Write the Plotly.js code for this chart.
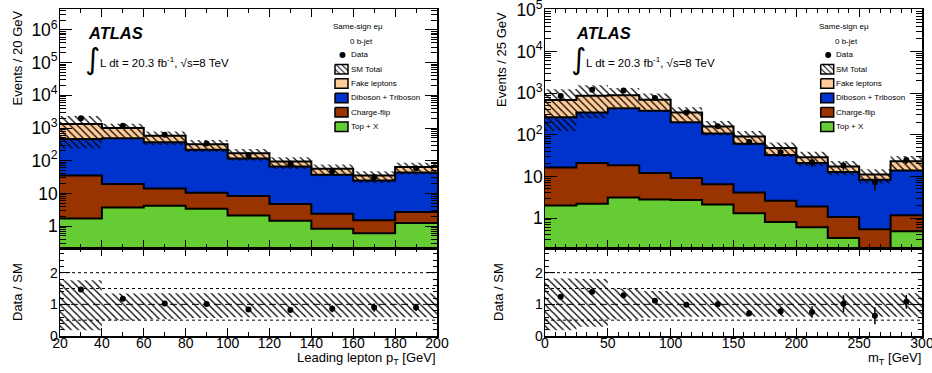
<!DOCTYPE html>
<html>
<head>
<meta charset="utf-8">
<script src="https://cdn.plot.ly/plotly-3.0.1.min.js"></script>
<style>html,body{margin:0;padding:0;background:#fff;}#chart{width:932px;height:373px;}</style>
</head>
<body>
<div id="chart"></div>
<script>
// ---------------- DATA ----------------
// Left panel: leading lepton pT, bins of 20 GeV from 20 to 200
const edgesL = [20, 40, 60, 80, 100, 120, 140, 160, 180, 200];
const topXL = [1.7, 3.7, 4.2, 3.4, 2.1, 1.46, 0.83, 0.6, 1.24];
const chargeFlipL = [33.3, 15.7, 9.8, 7.1, 6.2, 3.24, 1.57, 0.9, 1.46];
const dibosonL = [425, 470, 351, 205, 109, 62, 34.6, 23.2, 41];
const fakeL = [860, 510, 210, 105, 51, 28, 20, 10.3, 20.4];
const dataL = [1990, 1170, 620, 335, 148, 81, 48, 32, 59];
const dataErrL = [45, 34, 25, 18, 12, 9, 7, 6, 8];
const ratioL = [1.47, 1.18, 1.03, 1.01, 0.84, 0.82, 0.86, 0.90, 0.90];
const ratioErrL = [0.03, 0.04, 0.05, 0.06, 0.08, 0.09, 0.11, 0.13, 0.11];
const bandLoL = [0.18, 0.50, 0.53, 0.57, 0.59, 0.59, 0.59, 0.59, 0.59];
const bandHiL = [1.76, 1.34, 1.35, 1.35, 1.35, 1.35, 1.35, 1.35, 1.35];

// Right panel: mT, bins of 25 GeV from 0 to 300
const edgesR = [0, 25, 50, 75, 100, 125, 150, 175, 200, 225, 250, 275, 300];
const topXR = [2.0, 2.2, 3.1, 2.8, 2.7, 2.1, 1.3, 0.8, 0.6, 0.33, 0.1, 0.48];
const chargeFlipR = [14.4, 18.8, 15.3, 9.2, 6.4, 4.4, 2.8, 1.8, 1.3, 0.73, 0.44, 0.68];
const dibosonR = [247, 319, 412, 363, 191, 100, 57, 30, 19, 11.6, 7.8, 12.7];
const fakeR = [417, 520, 460, 315, 140, 51, 30, 15.5, 8, 4.7, 2.7, 9.1];
const dataR = [850, 1210, 1150, 765, 340, 160, 67, 38, 22, 18.3, 7.2, 24.7];
const dataErrR = [29, 35, 34, 28, 18, 13, 8, 6, 5, 4.3, 2.7, 5];
const ratioR = [1.24, 1.40, 1.29, 1.11, 0.99, 1.00, 0.72, 0.78, 0.76, 1.02, 0.64, 1.08];
const ratioErrR = [0.04, 0.04, 0.04, 0.05, 0.06, 0.08, 0.10, 0.12, 0.18, 0.27, 0.27, 0.22];
const bandLoR = [0.18, 0.29, 0.52, 0.58, 0.61, 0.61, 0.61, 0.61, 0.61, 0.61, 0.61, 0.61];
const bandHiR = [1.82, 1.80, 1.50, 1.42, 1.35, 1.35, 1.35, 1.35, 1.35, 1.35, 1.35, 1.35];

const legendLabels = ['Data', 'SM Total', 'Fake leptons', 'Diboson + Triboson', 'Charge-flip', 'Top + X'];
const colFake = '#ffcc99', colDib = '#0033cc', colCF = '#993300', colTop = '#66cc33';

// ---------------- HELPERS ----------------
const W = 932, H = 373;
const px = x => x / W, py = y => 1 - y / H;
const FONT = 'Liberation Sans, Arial, Helvetica, sans-serif';

function cumsum(arrs) {
  const out = []; let acc = arrs[0].map(() => 0);
  for (const a of arrs) { acc = acc.map((v, i) => v + a[i]); out.push(acc.slice()); }
  return out;
}
function step(vals) { return vals.concat([vals[vals.length - 1]]); }
function centers(edges) { const c = []; for (let i = 0; i < edges.length - 1; i++) c.push((edges[i] + edges[i + 1]) / 2); return c; }

const traces = [];
const hatch = {shape: '\\', fgcolor: 'black', bgcolor: 'rgba(0,0,0,0)', size: 5, solidity: 0.25};
function panel(edges, top, cf, dib, fake, data, dataErr, ratio, ratioErr, lo, hi, xa, ya, xr, yr) {
  const [cTop, cCF, cDib, cFake] = cumsum([top, cf, dib, fake]);
  const layers = [[cFake, colFake], [cDib, colDib], [cCF, colCF], [cTop, colTop]];
  for (const [vals, col] of layers) {
    traces.push({x: edges, y: step(vals), xaxis: xa, yaxis: ya, type: 'scatter', mode: 'lines',
      line: {shape: 'hv', color: 'black', width: 2}, fill: 'tozeroy', fillcolor: col, hoverinfo: 'skip', showlegend: false});
  }
  traces.push({x: edges, y: step(cFake.map((v, i) => v * lo[i])), xaxis: xa, yaxis: ya, mode: 'lines',
    line: {shape: 'hv', width: 0, color: 'rgba(0,0,0,0)'}, hoverinfo: 'skip', showlegend: false});
  traces.push({x: edges, y: step(cFake.map((v, i) => v * hi[i])), xaxis: xa, yaxis: ya, mode: 'lines',
    line: {shape: 'hv', width: 0, color: 'rgba(0,0,0,0)'}, fill: 'tonexty', fillcolor: 'rgba(0,0,0,0)',
    fillpattern: hatch, hoverinfo: 'skip', showlegend: false});
  const c = centers(edges);
  traces.push({x: c, y: data, xaxis: xa, yaxis: ya, mode: 'markers', marker: {color: 'black', size: 6},
    error_y: {type: 'data', array: dataErr, color: 'black', thickness: 1.5, width: 0}, showlegend: false});
  traces.push({x: edges, y: step(lo), xaxis: xr, yaxis: yr, mode: 'lines',
    line: {shape: 'hv', width: 0, color: 'rgba(0,0,0,0)'}, hoverinfo: 'skip', showlegend: false});
  traces.push({x: edges, y: step(hi), xaxis: xr, yaxis: yr, mode: 'lines',
    line: {shape: 'hv', width: 0, color: 'rgba(0,0,0,0)'}, fill: 'tonexty', fillcolor: 'rgba(0,0,0,0)',
    fillpattern: hatch, hoverinfo: 'skip', showlegend: false});
  traces.push({x: c, y: ratio, xaxis: xr, yaxis: yr, mode: 'markers', marker: {color: 'black', size: 6},
    error_y: {type: 'data', array: ratioErr, color: 'black', thickness: 1.5, width: 0}, showlegend: false});
}
panel(edgesL, topXL, chargeFlipL, dibosonL, fakeL, dataL, dataErrL, ratioL, ratioErrL, bandLoL, bandHiL, 'x', 'y', 'x2', 'y2');
panel(edgesR, topXR, chargeFlipR, dibosonR, fakeR, dataR, dataErrR, ratioR, ratioErrR, bandLoR, bandHiR, 'x3', 'y3', 'x4', 'y4');

// ---------------- LEGENDS (pixel overlay axes x5/y5) ----------------
const annotations = [];
function legend(bx, textX, sameX, bjetX) {
  const bw = 13, bh = 9.5;
  const rows = [69.3, 83.6, 98, 112.3, 126.7];
  const fills = [null, colFake, colDib, colCF, colTop];
  rows.forEach((yc, i) => {
    const x0 = bx, x1 = bx + bw, y0 = yc - bh / 2, y1 = yc + bh / 2;
    const t = {x: [x0, x1, x1, x0, x0], y: [y0, y0, y1, y1, y0], xaxis: 'x5', yaxis: 'y5', mode: 'lines',
      line: {color: 'black', width: 1.5}, fill: 'toself', hoverinfo: 'skip', showlegend: false};
    if (fills[i]) t.fillcolor = fills[i];
    else { t.fillcolor = 'white'; t.fillpattern = {shape: '\\', fgcolor: 'black', bgcolor: 'white', size: 4, solidity: 0.25}; }
    traces.push(t);
    annotations.push({xref: 'paper', yref: 'paper', x: px(textX), y: py(yc), xanchor: 'left', yanchor: 'middle',
      text: legendLabels[i + 1], showarrow: false, font: {family: FONT, size: 8, color: 'black'}, borderpad: 0});
  });
  traces.push({x: [bx + 7.5], y: [55], xaxis: 'x5', yaxis: 'y5', mode: 'markers', marker: {color: 'black', size: 6},
    hoverinfo: 'skip', showlegend: false});
  annotations.push({xref: 'paper', yref: 'paper', x: px(textX), y: py(55), xanchor: 'left', yanchor: 'middle',
    text: legendLabels[0], showarrow: false, font: {family: FONT, size: 8, color: 'black'}, borderpad: 0});
  annotations.push({xref: 'paper', yref: 'paper', x: px(sameX), y: py(26), xanchor: 'center', yanchor: 'middle',
    text: 'Same-sign eμ', showarrow: false, font: {family: FONT, size: 8, color: 'black'}, borderpad: 0});
  annotations.push({xref: 'paper', yref: 'paper', x: px(bjetX), y: py(41.7), xanchor: 'center', yanchor: 'middle',
    text: '0 b-jet', showarrow: false, font: {family: FONT, size: 8, color: 'black'}, borderpad: 0});
}
legend(335, 349.5, 358, 361);
legend(820.7, 835, 843.5, 846.7);

function label(x, yAtlas, xInt, xLumi) {
  annotations.push({xref: 'paper', yref: 'paper', x: px(x), y: py(yAtlas), xanchor: 'left', yanchor: 'middle',
    text: '<b><i>ATLAS</i></b>', showarrow: false, font: {family: FONT, size: 16.5, color: 'black'}, borderpad: 0});
  annotations.push({xref: 'paper', yref: 'paper', x: px(xInt), y: py(58.5), xanchor: 'left', yanchor: 'middle',
    text: '∫', showarrow: false, font: {family: 'DejaVu Sans, ' + FONT, size: 29, color: 'black'}, borderpad: 0});
  annotations.push({xref: 'paper', yref: 'paper', x: px(xLumi), y: py(62), xanchor: 'left', yanchor: 'middle',
    text: 'L dt = 20.3 fb<sup>-1</sup>, √s=8 TeV', showarrow: false, font: {family: FONT, size: 11.5, color: 'black'}, borderpad: 0});
}
label(87, 33, 84, 98.5);
label(575, 33, 570, 584.5);

function rot(text, x, y) {
  annotations.push({xref: 'paper', yref: 'paper', x: px(x), y: py(y), xanchor: 'center', yanchor: 'middle', textangle: -90,
    text: text, showarrow: false, font: {family: FONT, size: 13, color: 'black'}, borderpad: 0});
}
rot('Events / 20 GeV', 17, 58.5);
rot('Data / SM', 17, 292);
rot('Events / 25 GeV', 501, 60);
rot('Data / SM', 498, 292);
annotations.push({xref: 'paper', yref: 'paper', x: px(437), y: py(358), xanchor: 'right', yanchor: 'middle',
  text: 'Leading lepton p<sub>T</sub> [GeV]', showarrow: false, font: {family: FONT, size: 13, color: 'black'}, borderpad: 0});
annotations.push({xref: 'paper', yref: 'paper', x: px(922), y: py(358), xanchor: 'right', yanchor: 'middle',
  text: 'm<sub>T</sub> [GeV]', showarrow: false, font: {family: FONT, size: 13, color: 'black'}, borderpad: 0});

// ---------------- LAYOUT ----------------
const xL = [60 / W, 437 / W], xR = [545 / W, 922 / W];
const yMain = [1 - 248 / H, 1 - 9 / H], yRatio = [1 - 336 / H, 1 - 248 / H];
const tickFont = {family: FONT, size: 14, color: 'black'};
const base = {showline: true, linecolor: 'black', linewidth: 1.5, mirror: 'ticks', ticks: 'inside', tickcolor: 'black',
  tickwidth: 1, showgrid: false, zeroline: false, tickfont: tickFont, fixedrange: true, ticklabeloverflow: 'allow'};
function xax(dom, anchor, range, dtick, minor, labels) {
  return Object.assign({}, base, {domain: dom, anchor: anchor, range: range, ticklen: 8, showticklabels: labels,
    dtick: dtick, tick0: 0, ticklabelstandoff: -6,
    minor: {ticks: 'inside', ticklen: 4, dtick: minor, tickcolor: 'black', tickwidth: 1}});
}
function ylog(dom, anchor, range) {
  return Object.assign({}, base, {domain: dom, anchor: anchor, type: 'log', range: range, dtick: 1, ticklen: 12,
    exponentformat: 'power', ticklabelstandoff: -2,
    minor: {ticks: 'inside', ticklen: 6, dtick: 'D1', tickcolor: 'black', tickwidth: 1}});
}
function yrat(dom, anchor) {
  return Object.assign({}, base, {domain: dom, anchor: anchor, range: [0, 2.78], dtick: 1, tick0: 0, ticklen: 10,
    ticklabelstandoff: -2,
    minor: {ticks: 'inside', ticklen: 4, dtick: 0.2, tickcolor: 'black', tickwidth: 1}});
}

const shapes = [];
function ratioLines(xr, yr, x0, x1) {
  [[0.5, '3px,3px'], [1.5, '3px,3px'], [2, '3px,3px'], [1, '7px,4px']].forEach(([v, d]) => {
    shapes.push({type: 'line', xref: xr, yref: yr, x0: x0, x1: x1, y0: v, y1: v, layer: 'below',
      line: {color: 'black', width: 1, dash: d}});
  });
}
ratioLines('x2', 'y2', 20, 200);
ratioLines('x4', 'y4', 0, 300);

const layout = {
  width: W, height: H, margin: {l: 0, r: 0, t: 0, b: 0}, paper_bgcolor: 'white', plot_bgcolor: 'rgba(0,0,0,0)',
  showlegend: false, font: {family: FONT, color: 'black'},
  xaxis: xax(xL, 'y', [20, 200], 20, 10, false),
  yaxis: ylog(yMain, 'x', [-0.67, 6.64]),
  xaxis2: xax(xL, 'y2', [20, 200], 20, 10, true),
  yaxis2: yrat(yRatio, 'x2'),
  xaxis3: xax(xR, 'y3', [0, 300], 50, 25 / 3, false),
  yaxis3: ylog(yMain, 'x3', [-0.72, 5.02]),
  xaxis4: xax(xR, 'y4', [0, 300], 50, 25 / 3, true),
  yaxis4: yrat(yRatio, 'x4'),
  xaxis5: {domain: [0, 1], anchor: 'y5', range: [0, W], visible: false, fixedrange: true},
  yaxis5: {domain: [0, 1], anchor: 'x5', range: [H, 0], visible: false, fixedrange: true},
  annotations: annotations, shapes: shapes
};
Plotly.newPlot('chart', traces, layout, {staticPlot: true, displayModeBar: false});
</script>
</body>
</html>
